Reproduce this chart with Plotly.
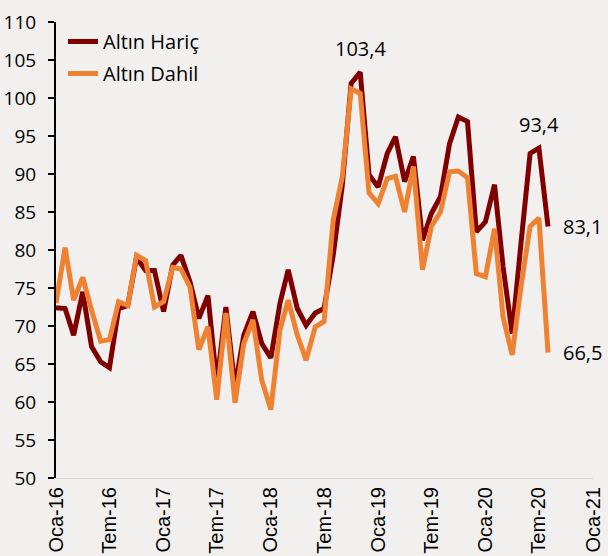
import plotly.graph_objects as go
import pandas as pd

dates = pd.date_range("2016-01-01", "2020-08-01", freq="MS")

haric = [72.4, 72.3, 68.8, 74.5, 67.3, 65.3, 64.5, 72.3, 72.7, 79.0, 77.3, 77.3,
         71.9, 78.0, 79.3, 75.8, 71.0, 74.0, 62.5, 72.5, 62.0, 68.8, 71.9, 67.7,
         65.8, 73.0, 77.4, 72.3, 70.1, 71.7, 72.3, 79.3, 88.5, 101.9, 103.4, 89.9,
         88.3, 92.7, 94.9, 89.0, 92.3, 81.3, 84.8, 87.0, 94.0, 97.5, 96.9, 82.4,
         83.7, 88.6, 77.8, 69.0, 80.9, 92.7, 93.4, 83.1]

dahil = [73.0, 80.3, 73.4, 76.4, 72.1, 68.0, 68.2, 73.2, 72.7, 79.3, 78.6, 72.5,
         73.2, 77.7, 77.5, 75.1, 66.9, 69.9, 60.3, 71.7, 59.9, 67.7, 70.8, 62.9,
         59.0, 69.5, 73.4, 68.8, 65.5, 69.9, 70.6, 83.9, 89.6, 101.2, 100.6, 87.5,
         86.1, 89.4, 89.7, 85.0, 91.0, 77.4, 83.1, 85.0, 90.3, 90.4, 89.5, 76.9,
         76.5, 82.8, 71.2, 66.2, 75.2, 83.1, 84.2, 66.5]

tick_dates = ["2016-01-01", "2016-07-01", "2017-01-01", "2017-07-01", "2018-01-01",
              "2018-07-01", "2019-01-01", "2019-07-01", "2020-01-01", "2020-07-01",
              "2021-01-01"]
tick_labels = ["Oca-16", "Tem-16", "Oca-17", "Tem-17", "Oca-18", "Tem-18",
               "Oca-19", "Tem-19", "Oca-20", "Tem-20", "Oca-21"]

y_ticks = list(range(50, 111, 5))

DARK = "#800000"
ORANGE = "#EF8232"
BG = "#F2F0EF"

fig = go.Figure()
fig.add_trace(go.Scatter(x=dates, y=haric, mode="lines", name="Altın Hariç",
                         legendgroup="a",
                         line=dict(color=DARK, width=5)))
fig.add_trace(go.Scatter(x=dates, y=dahil, mode="lines", name="Altın Dahil",
                         legendgroup="b",
                         line=dict(color=ORANGE, width=5)))

ann_font = dict(family="Open Sans", size=20, color="black")
fig.add_annotation(x=dates[34], y=haric[34], text="103,4", showarrow=False,
                   yshift=24, font=ann_font)
fig.add_annotation(x=dates[54], y=haric[54], text="93,4", showarrow=False,
                   yshift=24, font=ann_font)
fig.add_annotation(x=dates[55], y=haric[55], text="83,1", showarrow=False,
                   xanchor="left", xshift=13, font=ann_font)
fig.add_annotation(x=dates[55], y=dahil[55], text="66,5", showarrow=False,
                   xanchor="left", xshift=13, font=ann_font)

fig.update_layout(
    width=608, height=556,
    margin=dict(l=56, r=15, t=22, b=78, autoexpand=False),
    paper_bgcolor=BG, plot_bgcolor=BG,
    showlegend=True,
    legend=dict(x=0.013, y=1.0, xanchor="left", yanchor="top",
                bgcolor="rgba(0,0,0,0)", tracegroupgap=3,
                font=dict(family="Open Sans", size=20, color="black")),
    xaxis=dict(type="date", range=["2016-01-01", "2021-01-01"], automargin=False,
               tickvals=tick_dates, ticktext=tick_labels, tickangle=-90,
               showline=True, linecolor="#D9D9D9", linewidth=1,
               showgrid=False, zeroline=False, ticks="",
               tickfont=dict(family="Liberation Sans", size=20, color="black")),
    yaxis=dict(range=[50, 110], tickvals=y_ticks, automargin=False,
               showline=True, linecolor="black", linewidth=2,
               ticks="outside", ticklen=6, tickwidth=2, tickcolor="black",
               showgrid=False, zeroline=False, ticklabelstandoff=8,
               tickfont=dict(family="Open Sans", size=19, color="black")),
)

fig.write_html("out.html", config={"displayModeBar": False},
               post_script="document.body.style.margin='0';document.body.style.padding='0';document.body.style.overflow='hidden';")
